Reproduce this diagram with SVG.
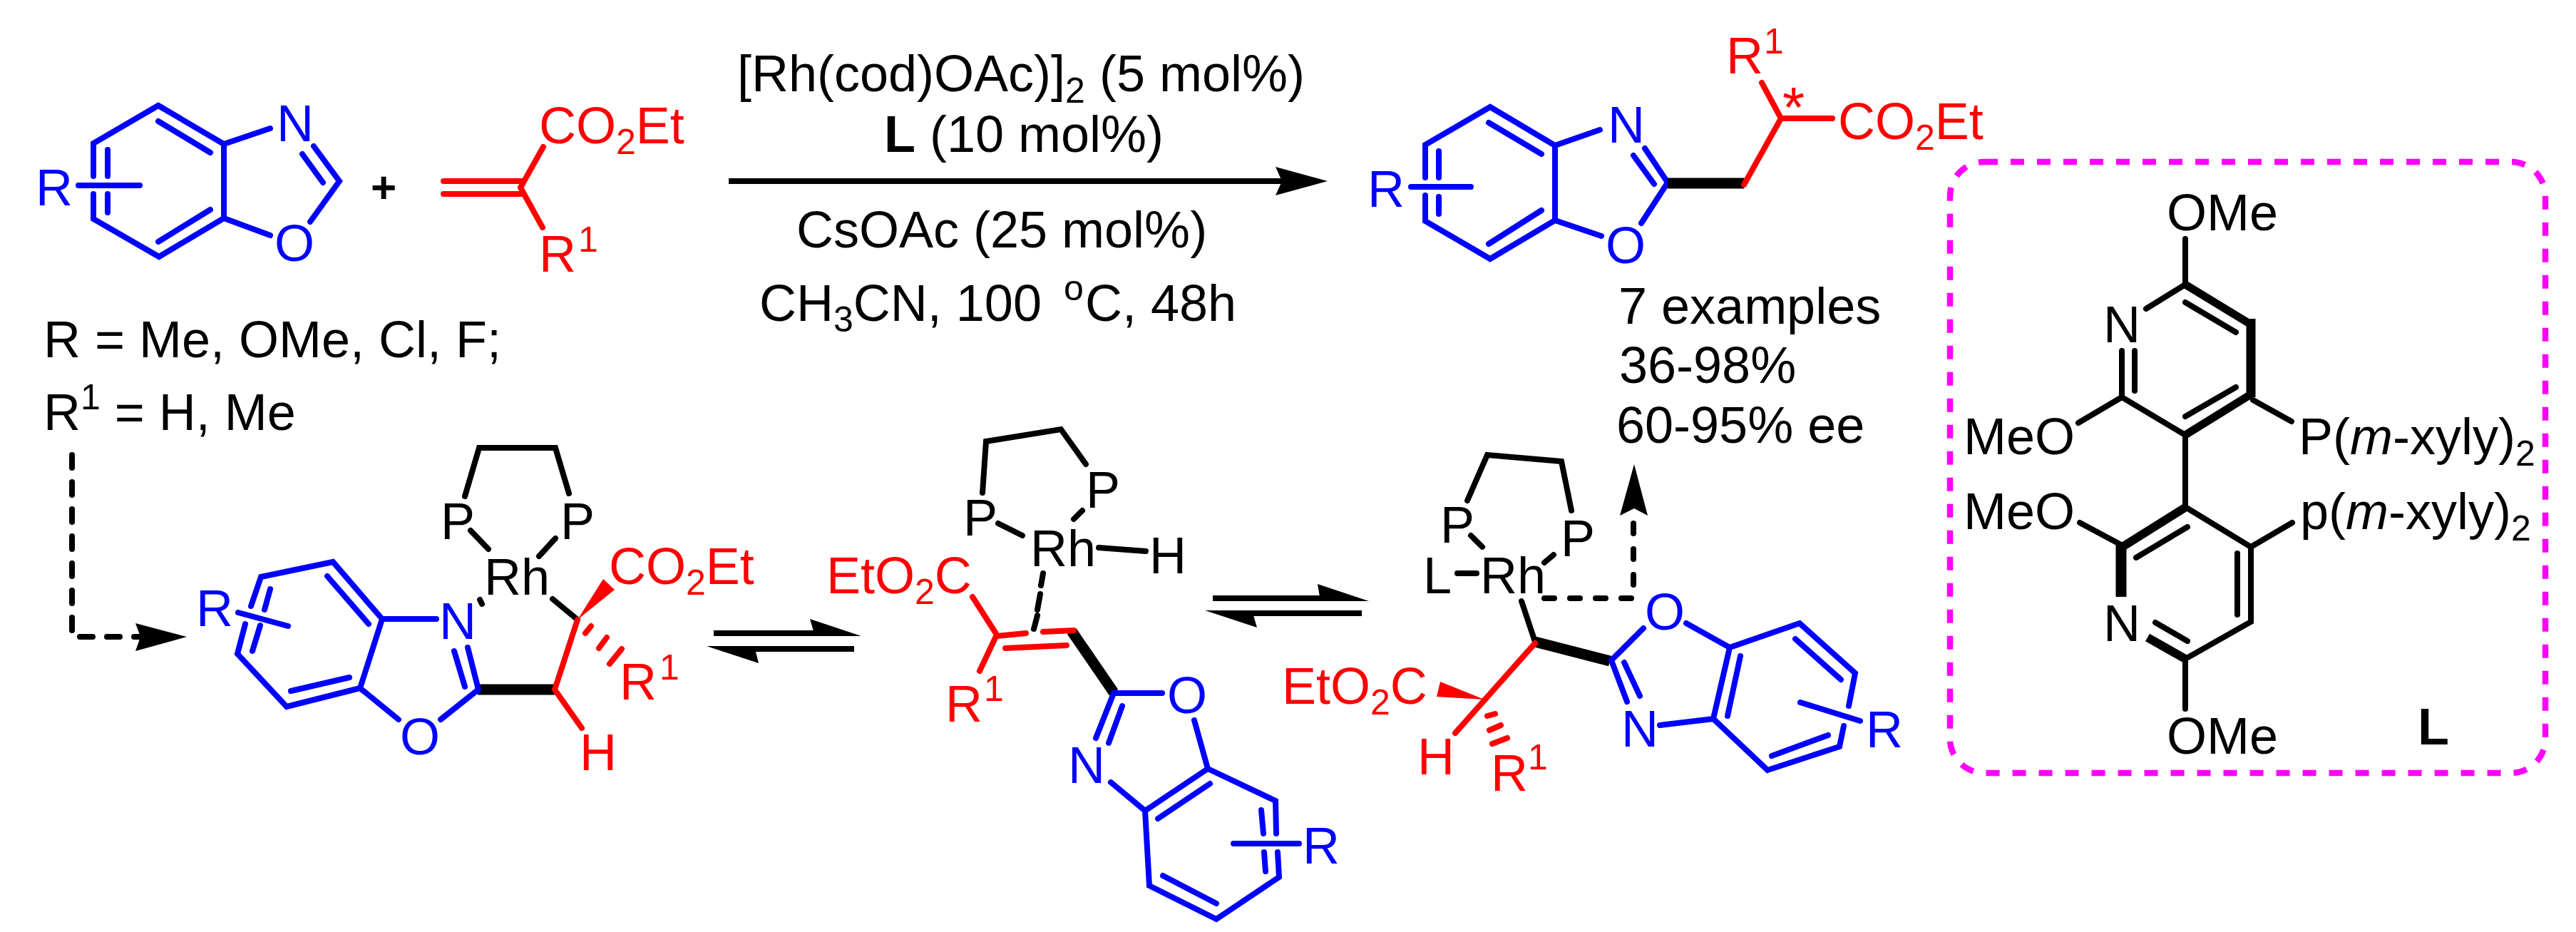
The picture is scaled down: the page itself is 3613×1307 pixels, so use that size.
<svg xmlns="http://www.w3.org/2000/svg" width="3613" height="1307" viewBox="0 0 3613 1307">
<style>
text{font-family:"Liberation Sans",Arial,sans-serif;font-size:72px;fill:#000}
.bl{fill:none;stroke:#0000ff;stroke-width:8;stroke-linecap:round;stroke-linejoin:miter}
.rd{fill:none;stroke:#ff0000;stroke-width:8;stroke-linecap:round;stroke-linejoin:miter}
.bk{fill:none;stroke:#000;stroke-width:8;stroke-linecap:round;stroke-linejoin:miter}
.th{fill:none;stroke:#000;stroke-width:15;stroke-linecap:butt}
.tb{fill:#0000ff}.tr{fill:#ff0000}
.s{font-size:50px}
.b{font-weight:bold}
.i{font-style:italic}
.hd{fill:#000;stroke:none}
.wr{fill:#ff0000;stroke:none}
</style>
<rect width="3613" height="1307" fill="#ffffff"/>

<g id="connectors">
<path class="bk" stroke-dasharray="18 20" d="M101 638V893H200"/>
<polygon class="hd" points="262,893 190,874 197,893 190,913"/>
<path d="M1022 254H1800" fill="none" stroke="#000" stroke-width="8"/>
<polygon class="hd" points="1862,254 1789,234 1798,254 1789,274"/>
<g id="equilibrium-1">
<path d="M1001 888H1145M1198 910H1055" fill="none" stroke="#000" stroke-width="8"/>
<polygon class="hd" points="1208,892 1136,868 1143,892"/>
<polygon class="hd" points="991,906 1064,930 1058,906"/>
</g>
<g id="equilibrium-2">
<path d="M1701 839H1860M1910 860H1750" fill="none" stroke="#000" stroke-width="8"/>
<polygon class="hd" points="1920,843 1848,819 1852,843"/>
<polygon class="hd" points="1690,856 1763,880 1756,856"/>
</g>
<path class="bk" stroke-dasharray="14 22" d="M2166 839H2291V720"/>
<polygon class="hd" points="2292,651 2272,723 2292,713 2311,723"/>
</g>

<g id="reactant-benzoxazole">
<path class="bl" d="M131 247V201L222 148L314 202V306L223 360L131 307V272M151 210V247M151 272V298M222 170L295 214M222 339L295 294M314 202L379 180M314 306L379 330M440 205L476 254L435 311M424 216L453 256M110 260H196"/>
<text class="tb" x="50" y="288">R</text>
<text class="tb" x="388" y="198">N</text>
<text class="tb" x="385" y="366">O</text>
</g>

<g id="plus"><text class="b" x="520" y="284" font-size="62" style="font-size:62px">+</text></g>

<g id="reactant-acrylate">
<path class="rd" d="M622 254H732M622 272H732M730 263L762 206M730 263L761 319"/>
<text class="tr" x="756" y="201">CO<tspan class="s" dy="15">2</tspan><tspan dy="-15">Et</tspan></text>
<text class="tr" x="756" y="381">R<tspan class="s" x="811" y="353">1</tspan></text>
</g>

<g id="substituents">
<text x="61" y="501">R = Me, OMe, Cl, F;</text>
<text x="61" y="603">R<tspan class="s" dy="-29">1</tspan><tspan dy="29"> = H, Me</tspan></text>
</g>

<g id="conditions">
<text x="1034" y="128">[Rh(cod)OAc)]<tspan class="s" dy="16">2</tspan><tspan dy="-16"> (5 mol%)</tspan></text>
<text x="1240" y="213"><tspan class="b">L</tspan> (10 mol%)</text>
<text x="1117" y="347">CsOAc (25 mol%)</text>
<text x="1065" y="450">CH<tspan class="s" dy="15">3</tspan><tspan dy="-15">CN, 100 </tspan><tspan class="s" x="1492" dy="-29">o</tspan><tspan x="1522" dy="29">C, 48h</tspan></text>
</g>

<g id="product">
<path class="bl" d="M1999 249V203L2090 150L2181 204V309L2090 363L1999 310V274M2018 212V249M2018 276V300M2088 172L2162 216M2088 342L2162 295M2181 204L2244 182M2181 309L2246 331M2307 208L2339 256L2302 313M2291 218L2320 258M1979 262H2063"/>
<path class="th" d="M2339 257H2446"/>
<path class="rd" d="M2446 259L2498 166L2471 116M2498 166H2570"/>
<text class="tb" x="1918" y="290">R</text>
<text class="tb" x="2255" y="200">N</text>
<text class="tb" x="2252" y="369">O</text>
<text class="tr" x="2421" y="103">R<tspan class="s" x="2474" y="75">1</tspan></text>
<text class="tr" x="2500" y="178" style="font-size:80px">*</text>
<text class="tr" x="2578" y="195">CO<tspan class="s" dy="15">2</tspan><tspan dy="-15">Et</tspan></text>
</g>

<g id="results">
<text x="2270" y="454">7 examples</text>
<text x="2271" y="537">36-98%</text>
<text x="2267" y="621">60-95% ee</text>
</g>

<g id="intermediate-1">
<path class="bk" d="M652 696L672 628H779L798 692M660 744L685 770M779 755L756 780M673 841L676 847M775 840L810 869"/>
<path class="th" d="M670 967H778" style="stroke-width:15"/>
<polygon class="wr" points="810,869 846,812 862,827"/>
<path class="rd" d="M810 869L778 967L816 1021M821 888L829 878M840 909L851 894M855 931L872 910"/>
<path class="bl" d="M656 908L671 967L618 1009M637 913L652 963M559 1009L505 965L536 868H612M536 868L467 788L366 809L352 850M344 875L333 917L402 991L505 965M459 808L517 875M379 826L371 855M365 877L354 913M408 969L490 950M334 859L404 878"/>
<text x="618" y="756">P</text>
<text x="786" y="756">P</text>
<text x="679" y="834">Rh</text>
<text class="tb" x="616" y="896">N</text>
<text class="tb" x="561" y="1058">O</text>
<text class="tb" x="275" y="878">R</text>
<text class="tr" x="854" y="819">CO<tspan class="s" dy="15">2</tspan><tspan dy="-15">Et</tspan></text>
<text class="tr" x="869" y="981">R<tspan class="s" x="925" y="953">1</tspan></text>
<text class="tr" x="813" y="1080">H</text>
</g>

<g id="intermediate-2">
<path class="bk" d="M1378 691L1383 619L1488 602L1523 651M1400 734L1434 751M1518 716L1506 728M1541 768L1607 773M1463 804L1460 821M1459 833L1455 855M1455 863L1450 882"/>
<path class="th" d="M1503 885L1562 971"/>
<path class="rd" d="M1364 837L1398 890L1374 941M1398 892L1439 888M1463 886L1506 884M1410 909L1496 905"/>
<path class="bl" d="M1630 972H1562L1537 1035M1574 990L1555 1042M1558 1097L1606 1137L1612 1242L1706 1289L1794 1230L1792 1195M1790 1169L1789 1123L1694 1078L1606 1137M1675 1010L1694 1078M1624 1148L1697 1099M1769 1136L1772 1169M1773 1195L1775 1222M1631 1228L1706 1267M1730 1183H1822"/>
<text x="1351" y="751">P</text>
<text x="1523" y="712">P</text>
<text x="1445" y="794">Rh</text>
<text x="1612" y="804">H</text>
<text class="tr" x="1159" y="832">EtO<tspan class="s" dy="15">2</tspan><tspan dy="-15">C</tspan></text>
<text class="tr" x="1326" y="1012">R<tspan class="s" x="1380" y="983">1</tspan></text>
<text class="tb" x="1637" y="1000">O</text>
<text class="tb" x="1498" y="1098">N</text>
<text class="tb" x="1827" y="1211">R</text>
</g>

<g id="intermediate-3">
<path class="bk" d="M2058 702L2086 638L2190 647L2204 716M2063 751L2079 767M2179 778L2166 789M2044 804H2071M2134 843L2153 900"/>
<path class="th" d="M2153 900L2258 927"/>
<polygon class="wr" points="2082,981 2020,956 2015,977"/>
<path class="rd" d="M2153 902L2041 1028M2086 1004L2097 1001M2089 1024L2105 1017M2093 1043L2114 1035"/>
<path class="bl" d="M2305 881L2260 926L2282 984M2278 929L2300 976M2328 1017L2403 1008L2426 908L2365 874M2426 908L2524 874L2602 944L2593 990M2586 1018L2580 1047L2479 1080L2403 1008M2441 920L2423 1004M2518 896L2582 953M2485 1060L2564 1031M2525 985L2609 1011"/>
<text x="2020" y="761">P</text>
<text x="2189" y="780">P</text>
<text x="1996" y="832">L</text>
<text x="2076" y="832">Rh</text>
<text class="tr" x="1798" y="987">EtO<tspan class="s" dy="15">2</tspan><tspan dy="-15">C</tspan></text>
<text class="tr" x="1988" y="1086">H</text>
<text class="tr" x="2091" y="1109">R<tspan class="s" x="2143" y="1079">1</tspan></text>
<text class="tb" x="2307" y="883">O</text>
<text class="tb" x="2274" y="1047">N</text>
<text class="tb" x="2617" y="1048">R</text>
</g>

<g id="ligand">
<rect x="2735" y="227" width="835" height="857" rx="48" ry="48" fill="none" stroke="#ff00ff" stroke-width="8.5" stroke-dasharray="19 18"/>
<path class="bk" d="M3065 335V399L3010 433M2994 492V548M3065 424L3136 466M3136 543L3065 584M3065 610L2976 557V492M2976 557L2915 593M3160 561L3214 591M3065 610V711L3157 767V872L3065 924V994M3157 767L3215 733M3068 739L2996 782M2975 764L2917 733M3138 776V862M3023 873L3068 899"/>
<path class="bk" style="stroke-width:11;stroke-linecap:butt" d="M3065 399L3157 455M3157 553L3065 610"/>
<path class="bk" style="stroke-width:13;stroke-linecap:butt" d="M3157 447V557"/>
<path class="bk" style="stroke-width:12;stroke-linecap:butt" d="M3066 711L2975 768M3065 924L3012 894"/>
<path class="bk" style="stroke-width:15;stroke-linecap:butt" d="M2975 760V837"/>
<text x="3039" y="323">OMe</text>
<text x="2950" y="480">N</text>
<text x="2754" y="637">MeO</text>
<text x="3224" y="637">P(<tspan class="i">m</tspan>-xyly)<tspan class="s" dy="16">2</tspan></text>
<text x="2754" y="742">MeO</text>
<text x="3226" y="742">p(<tspan class="i">m</tspan>-xyly)<tspan class="s" dy="16">2</tspan></text>
<text x="2950" y="899">N</text>
<text x="3039" y="1057">OMe</text>
<text class="b" x="3391" y="1044">L</text>
</g>
</svg>
